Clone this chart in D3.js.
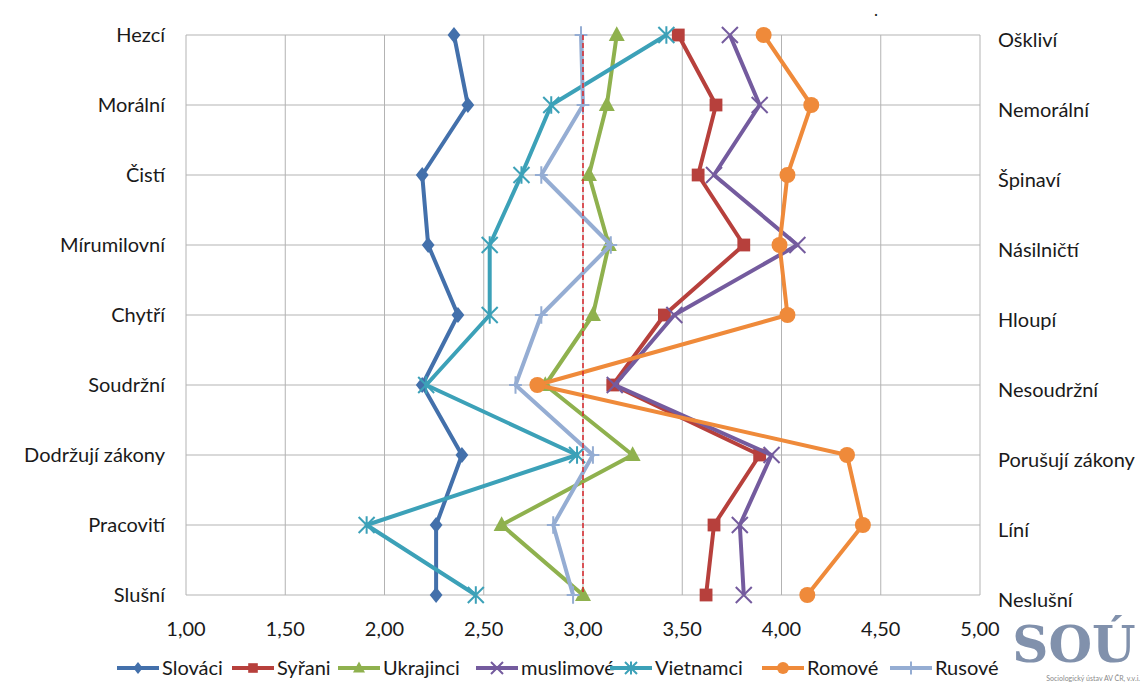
<!DOCTYPE html>
<html>
<head>
<meta charset="utf-8">
<script src="https://cdn.jsdelivr.net/npm/d3@7"></script>
<style>
  body { margin: 0; background: #fff; }
  svg text { font-family: Lato, "Open Sans", sans-serif; fill: #1a1a1a; }
</style>
</head>
<body>
<svg id="chart" width="1144" height="682"></svg>
<script>
// kategorie vlevo a vpravo
const leftLabels = ['Hezcí', 'Morální', 'Čistí', 'Mírumilovní', 'Chytří', 'Soudržní', 'Dodržují zákony', 'Pracovití', 'Slušní'];
const rightLabels = ['Oškliví', 'Nemorální', 'Špinaví', 'Násilničtí', 'Hloupí', 'Nesoudržní', 'Porušují zákony', 'Líní', 'Neslušní'];
const xTicks = [1, 1.5, 2, 2.5, 3, 3.5, 4, 4.5, 5];

// hodnoty
const slovaci   = [2.35, 2.42, 2.19, 2.22, 2.37, 2.19, 2.39, 2.26, 2.26];
const syrani    = [3.48, 3.67, 3.58, 3.81, 3.41, 3.15, 3.89, 3.66, 3.62];
const ukrajinci = [3.17, 3.12, 3.03, 3.13, 3.05, 2.81, 3.25, 2.59, 3.00];
const muslimove = [3.74, 3.89, 3.66, 4.08, 3.46, 3.16, 3.95, 3.79, 3.81];
const vietnamci = [3.42, 2.84, 2.69, 2.53, 2.53, 2.21, 2.97, 1.91, 2.46];
const romove    = [3.91, 4.15, 4.03, 3.99, 4.03, 2.77, 4.33, 4.41, 4.13];
const rusove    = [2.99, 3.00, 2.79, 3.14, 2.79, 2.66, 3.05, 2.85, 2.95];
const neutral   = 3.00;

const series = [
  { name: 'Slováci',   values: slovaci,   color: '#4370ab', marker: 'diamond' },
  { name: 'Syřani',    values: syrani,    color: '#b7403c', marker: 'square' },
  { name: 'Ukrajinci', values: ukrajinci, color: '#8fb14e', marker: 'triangle' },
  { name: 'muslimové', values: muslimove, color: '#745b9e', marker: 'x' },
  { name: 'Vietnamci', values: vietnamci, color: '#3ca1b8', marker: 'star' },
  { name: 'Romové',    values: romove,    color: '#ef8a3a', marker: 'circle' },
  { name: 'Rusové',    values: rusove,    color: '#95add3', marker: 'plus' }
];

const svg = d3.select('#chart');
const x = d3.scaleLinear().domain([1, 5]).range([186, 980]);
const y = d3.scalePoint().domain(d3.range(leftLabels.length)).range([35, 595]);
const grid = '#b3b3b3';

//mřížka
svg.append('g').selectAll('line.v').data(xTicks).join('line')
  .attr('x1', d => x(d)).attr('x2', d => x(d))
  .attr('y1', y(0)).attr('y2', y(leftLabels.length - 1))
  .attr('stroke', grid).attr('stroke-width', 1);
svg.append('g').selectAll('line.h').data(d3.range(leftLabels.length)).join('line')
  .attr('x1', x(1)).attr('x2', x(5))
  .attr('y1', d => y(d)).attr('y2', d => y(d))
  .attr('stroke', grid).attr('stroke-width', 1);

//osa x
const fmt = d => d.toFixed(2).replace('.', ',');
svg.append('g').selectAll('text').data(xTicks).join('text')
  .attr('x', d => x(d)).attr('y', 636)
  .attr('text-anchor', 'middle').style('font-size', '20px')
  .text(fmt);

//popisky
svg.append('g').selectAll('text').data(leftLabels).join('text')
  .attr('x', 165).attr('y', (d, i) => y(i) + 7)
  .attr('text-anchor', 'end').style('font-size', '20px')
  .text(d => d);
svg.append('g').selectAll('text').data(rightLabels).join('text')
  .attr('x', 998).attr('y', (d, i) => y(i) + 12)
  .attr('text-anchor', 'start').style('font-size', '20px')
  .text(d => d);

//značky
function marker(sel, type, color, s) {
  if (type === 'diamond') {
    sel.append('path').attr('d', `M0,${-s}L${s * 0.8},0L0,${s}L${-s * 0.8},0Z`).attr('fill', color);
  } else if (type === 'square') {
    sel.append('rect').attr('x', -s * 0.8).attr('y', -s * 0.8).attr('width', s * 1.6).attr('height', s * 1.6).attr('fill', color);
  } else if (type === 'triangle') {
    sel.append('path').attr('d', `M0,${-s * 1.1}L${s},${s * 0.75}L${-s},${s * 0.75}Z`).attr('fill', color);
  } else if (type === 'circle') {
    sel.append('circle').attr('r', s).attr('fill', color);
  } else {
    let d = '';
    if (type === 'x' || type === 'star') d += `M${-s},${-s}L${s},${s}M${-s},${s}L${s},${-s}`;
    if (type === 'star' || type === 'plus') d += `M0,${-s * 1.1}L0,${s * 1.1}`;
    if (type === 'plus') d += `M${-s * 0.8},0L${s * 0.8},0`;
    sel.append('path').attr('d', d).attr('stroke', color).attr('stroke-width', 2).attr('fill', 'none');
  }
}

const line = d3.line().x(d => x(d[0])).y(d => y(d[1]));

series.forEach(s => {
  const pts = s.values.map((v, i) => [v, i]);
  const g = svg.append('g');
  g.append('path').attr('d', line(pts))
    .attr('fill', 'none').attr('stroke', s.color)
    .attr('stroke-width', 4).attr('stroke-linejoin', 'round');
  pts.forEach(p => {
    const m = g.append('g').attr('transform', `translate(${x(p[0])},${y(p[1])})`);
    marker(m, s.marker, s.color, 8);
  });
});

//střední hodnota
svg.append('line')
  .attr('x1', x(neutral)).attr('x2', x(neutral))
  .attr('y1', y(0)).attr('y2', y(leftLabels.length - 1))
  .attr('stroke', '#d9262b').attr('stroke-width', 1.5)
  .attr('stroke-dasharray', '5,3');

svg.append('text').attr('x', 874).attr('y', 16).style('font-size', '17px').text('.');

//legenda
const legendPos = [117, 232, 338, 476, 610, 762, 890];
const lg = svg.append('g').selectAll('g').data(series).join('g')
  .attr('transform', (d, i) => `translate(${legendPos[i]},668)`);
lg.append('line').attr('x1', 0).attr('x2', 42)
  .attr('stroke', d => d.color).attr('stroke-width', 4);
lg.each(function (d) {
  marker(d3.select(this).append('g').attr('transform', 'translate(21,0)'), d.marker, d.color, 6);
});
lg.append('text').attr('x', 45).attr('y', 7).style('font-size', '20px').text(d => d.name);

//logo
const logo = svg.append('g');
logo.append('text').attr('x', 1074).attr('y', 662)
  .attr('text-anchor', 'middle')
  .style('font-family', '"DejaVu Serif", serif').style('font-weight', 'bold')
  .style('font-size', '50px').style('fill', '#8191ac')
  .text('SOÚ');
logo.append('text').attr('x', 1140).attr('y', 681)
  .attr('text-anchor', 'end').style('font-size', '7px').style('fill', '#8a8a8a')
  .text('Sociologický ústav AV ČR, v.v.i.');
</script>
</body>
</html>
